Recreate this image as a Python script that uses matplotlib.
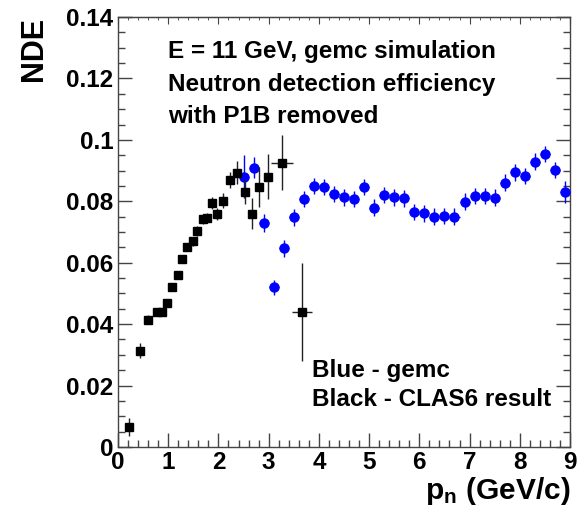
import matplotlib
matplotlib.use('Agg')
import matplotlib.pyplot as plt
from matplotlib.ticker import MultipleLocator, FuncFormatter

plt.rcParams['font.family'] = ['Liberation Sans', 'DejaVu Sans']
plt.rcParams['font.weight'] = 'bold'
plt.rcParams['mathtext.fontset'] = 'custom'
plt.rcParams['mathtext.rm'] = 'Liberation Sans:bold'
plt.rcParams['mathtext.bf'] = 'Liberation Sans:bold'
plt.rcParams['mathtext.it'] = 'Liberation Sans:bold'

# --------------------------
# data
# --------------------------
# black squares: CLAS6 result
black_x = [0.22, 0.44, 0.59, 0.77, 0.87, 0.98, 1.07, 1.19, 1.27, 1.37, 1.49, 1.57,
           1.69, 1.78, 1.87, 1.98, 2.10, 2.23, 2.36, 2.53, 2.66, 2.80, 2.98, 3.27, 3.66]
black_y = [0.0066, 0.0314, 0.0414, 0.0440, 0.0440, 0.0468, 0.0522, 0.0559, 0.0611,
           0.0650, 0.0670, 0.0703, 0.0741, 0.0747, 0.0794, 0.0758, 0.0802, 0.0869,
           0.0893, 0.0831, 0.0760, 0.0848, 0.0880, 0.0926, 0.0440]
black_yerr = [0.003, 0.0025, 0.0015, 0.0012, 0.0012, 0.0012, 0.0012, 0.0012, 0.0012,
              0.0012, 0.0015, 0.0015, 0.0015, 0.0015, 0.002, 0.002, 0.0025, 0.0027,
              0.0038, 0.004, 0.005, 0.0065, 0.0073, 0.009, 0.016]
black_xerr = [0, 0, 0, 0, 0, 0, 0, 0, 0, 0, 0, 0,
              0, 0, 0, 0, 0, 0, 0, 0, 0, 0, 0, 0.22, 0.2]

# blue circles: gemc
blue_x = [2.5, 2.7, 2.9, 3.1, 3.3, 3.5, 3.7, 3.9, 4.1, 4.3, 4.5, 4.7, 4.9, 5.1, 5.3,
          5.5, 5.7, 5.9, 6.1, 6.3, 6.5, 6.7, 6.9, 7.1, 7.3, 7.5, 7.7, 7.9, 8.1, 8.3,
          8.5, 8.7, 8.9]
blue_y = [0.0880, 0.0910, 0.0730, 0.0520, 0.0647, 0.0748, 0.0807, 0.0850, 0.0846,
          0.0824, 0.0813, 0.0807, 0.0846, 0.0779, 0.0821, 0.0813, 0.0810, 0.0765,
          0.0761, 0.0750, 0.0752, 0.0750, 0.0799, 0.0817, 0.0817, 0.0812, 0.0861,
          0.0894, 0.0883, 0.0929, 0.0954, 0.0902, 0.0831]
blue_yerr = [0.007, 0.0034, 0.003, 0.0024, 0.0027, 0.0027, 0.0027, 0.0027, 0.0027,
             0.0027, 0.0027, 0.0027, 0.0027, 0.0027, 0.0027, 0.0027, 0.0027, 0.0027,
             0.0027, 0.0027, 0.0027, 0.0027, 0.0027, 0.0027, 0.0027, 0.0027, 0.0027,
             0.0027, 0.0027, 0.0027, 0.0027, 0.0027, 0.0035]
blue_xerr = 0.1

info_lines = ['E = 11 GeV, gemc simulation',
              'Neutron detection efficiency',
              'with P1B removed']
legend_lines = ['Blue - gemc', 'Black - CLAS6 result']

# --------------------------
# plot
# --------------------------
fig = plt.figure(figsize=(5.88, 5.22), dpi=100)
ax = fig.add_axes([0.2007, 0.1437, 0.7687, 0.8237])

ax.errorbar(blue_x, blue_y, yerr=blue_yerr, xerr=blue_xerr, fmt='o', color='#0000ff',
            ms=6.5, mec='#0000ff', elinewidth=1.0, capsize=0, zorder=3)
ax.errorbar(black_x, black_y, yerr=black_yerr, xerr=black_xerr, fmt='s', color='black',
            ms=6, elinewidth=1.0, ecolor='#222222', capsize=0, zorder=4)

ax.set_xlim(0, 9)
ax.set_ylim(0, 0.14)
ax.xaxis.set_major_locator(MultipleLocator(1))
ax.xaxis.set_minor_locator(MultipleLocator(0.2))
ax.yaxis.set_major_locator(MultipleLocator(0.02))
ax.yaxis.set_minor_locator(MultipleLocator(0.005))
ax.yaxis.set_major_formatter(FuncFormatter(lambda v, p: '%g' % round(v, 3)))

spine_col = '#444444'
for s in ax.spines.values():
    s.set_color(spine_col)
    s.set_linewidth(1.0)
ax.tick_params(which='both', direction='in', colors=spine_col, labelcolor='black',
               top=False, right=True, labelsize=17.5)
ax.tick_params(which='major', length=10, width=1.0)
ax.tick_params(which='minor', length=5, width=1.0)
ax.tick_params(axis='x', which='major', pad=3)

top = ax.secondary_xaxis('top')
top.xaxis.set_major_locator(MultipleLocator(1))
top.xaxis.set_minor_locator(MultipleLocator(0.2))
top.tick_params(which='both', direction='in', colors=spine_col, labeltop=False)
top.tick_params(which='major', length=5)
top.tick_params(which='minor', length=2.5)
top.spines['top'].set_color(spine_col)

ax.set_ylabel('NDE', loc='top', fontsize=22, fontweight='bold')
ax.yaxis.set_label_coords(-0.152, 1.0)
ax.set_xlabel('$\\mathbf{p_{n}}$ (GeV/c)', loc='right', fontsize=21.5, fontweight='bold')
ax.xaxis.set_label_coords(1.0, -0.066)
ax.xaxis.label.set_va('top')

for i, line in enumerate(info_lines):
    ax.text(0.111, 0.9047 - 0.0757 * i, line, transform=ax.transAxes,
            fontsize=17.5, fontweight='bold', va='baseline')
for i, line in enumerate(legend_lines):
    ax.text(0.4285, 0.1635 - 0.0675 * i, line, transform=ax.transAxes,
            fontsize=17.5, fontweight='bold', va='baseline')

fig.savefig('out.png', dpi=100)
